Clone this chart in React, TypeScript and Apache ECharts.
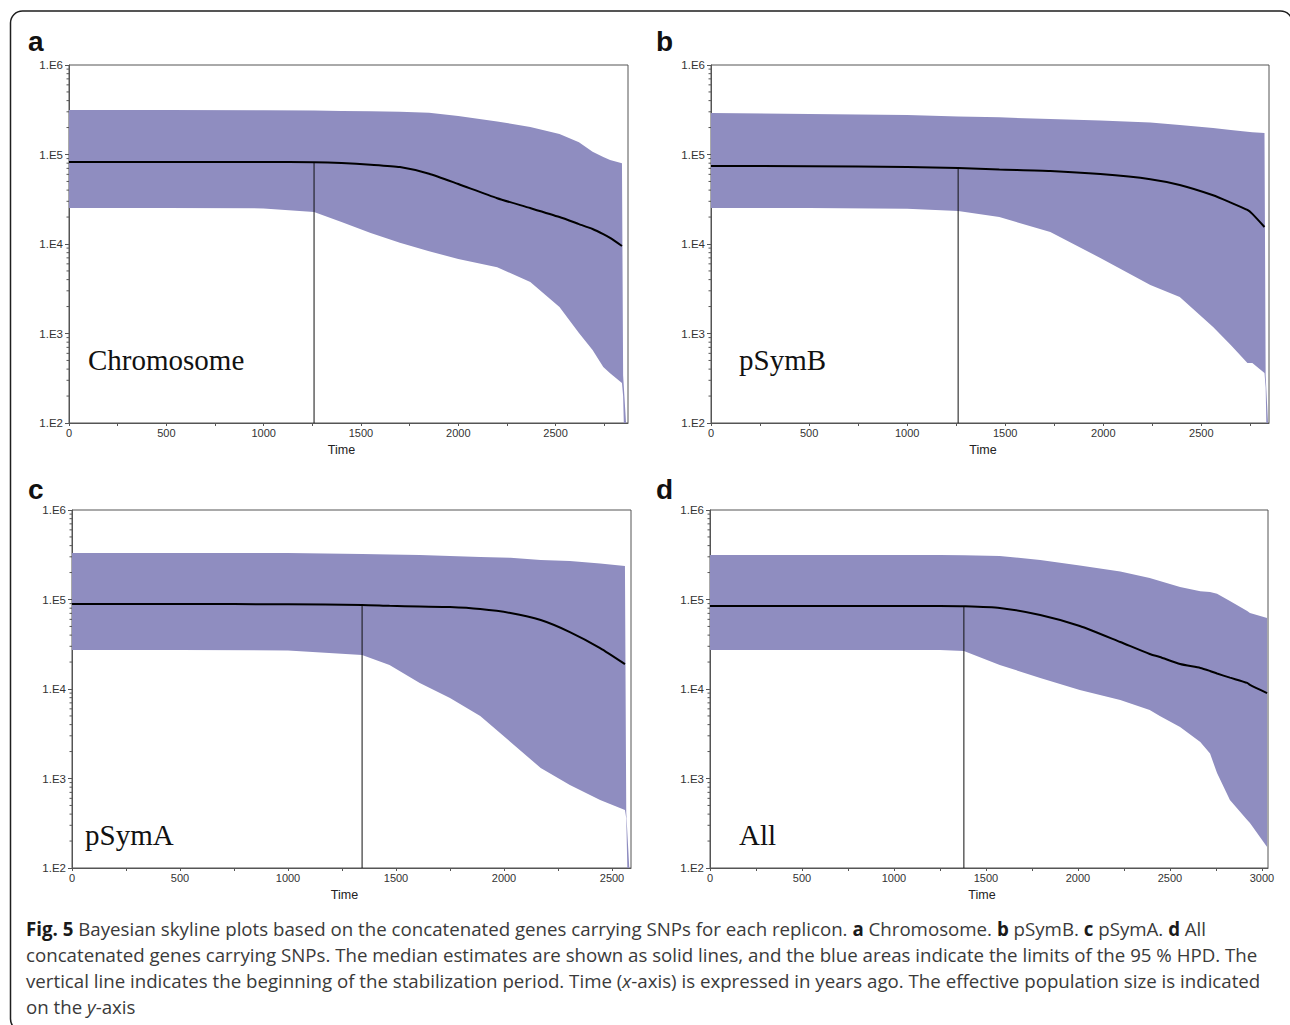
import React, { useEffect, useRef } from "react";
import * as echarts from "echarts";

// ---------- data (effective population size, years ago) ----------
const timesA = [0, 500, 1000, 1259, 1400, 1550, 1700, 1850, 2000, 2200, 2370, 2520, 2620, 2690, 2745, 2780, 2841, 2847, 2862];
const upperA = [3.14e5, 3.14e5, 3.13e5, 3.1e5, 3.07e5, 3.05e5, 3.0e5, 2.93e5, 2.69e5, 2.34e5, 2.03e5, 1.69e5, 1.37e5, 1.07e5, 9.4e4, 8.7e4, 8.0e4, 340, 100];
const medianA = [8.24e4, 8.24e4, 8.24e4, 8.2e4, 8.04e4, 7.7e4, 7.24e4, 6.1e4, 4.68e4, 3.25e4, 2.52e4, 2.0e4, 1.67e4, 1.47e4, 1.29e4, 1.17e4, 9.5e3, null, null];
const lowerA = [2.52e4, 2.52e4, 2.5e4, 2.28e4, 1.76e4, 1.33e4, 1.03e4, 8.3e3, 6.8e3, 5.5e3, 3.76e3, 1.98e3, 1.01e3, 655, 423, 360, 280, 200, 10];

const timesB = [0, 500, 1000, 1260, 1470, 1730, 1985, 2240, 2390, 2560, 2650, 2735, 2760, 2822, 2828, 2840];
const upperB = [2.91e5, 2.84e5, 2.76e5, 2.66e5, 2.6e5, 2.49e5, 2.4e5, 2.28e5, 2.14e5, 1.98e5, 1.88e5, 1.79e5, 1.77e5, 1.74e5, 340, 100];
const medianB = [7.45e4, 7.4e4, 7.25e4, 7.07e4, 6.8e4, 6.55e4, 6.05e4, 5.3e4, 4.56e4, 3.5e4, 2.9e4, 2.4e4, 2.17e4, 1.55e4, null, null];
const lowerB = [2.52e4, 2.52e4, 2.48e4, 2.34e4, 2.0e4, 1.36e4, 6.98e3, 3.48e3, 2.56e3, 1.18e3, 745, 468, 468, 362, 250, 10];

const timesC = [0, 500, 1000, 1343, 1470, 1610, 1750, 1890, 2030, 2170, 2305, 2445, 2560, 2566, 2580];
const upperC = [3.31e5, 3.31e5, 3.3e5, 3.23e5, 3.19e5, 3.14e5, 3.07e5, 2.99e5, 2.92e5, 2.76e5, 2.69e5, 2.53e5, 2.37e5, 420, 100];
const medianC = [8.91e4, 8.91e4, 8.85e4, 8.7e4, 8.5e4, 8.35e4, 8.24e4, 7.83e4, 7.07e4, 5.9e4, 4.33e4, 2.87e4, 1.9e4, null, null];
const lowerC = [2.73e4, 2.73e4, 2.7e4, 2.4e4, 1.85e4, 1.17e4, 7.93e3, 4.99e3, 2.56e3, 1.31e3, 845, 575, 445, 360, 10];

const timesD = [0, 500, 1000, 1250, 1380, 1575, 1795, 2010, 2230, 2390, 2445, 2555, 2665, 2718, 2756, 2826, 2920, 2935, 3028];
const upperD = [3.14e5, 3.14e5, 3.14e5, 3.14e5, 3.13e5, 3.07e5, 2.76e5, 2.4e5, 2.06e5, 1.74e5, 1.61e5, 1.38e5, 1.24e5, 1.21e5, 1.16e5, 9.6e4, 7.45e4, 7.07e4, 6.21e4];
const medianD = [8.45e4, 8.45e4, 8.45e4, 8.45e4, 8.4e4, 8.04e4, 6.71e4, 5.06e4, 3.35e4, 2.46e4, 2.28e4, 1.9e4, 1.72e4, 1.59e4, 1.49e4, 1.34e4, 1.17e4, 1.11e4, 9.0e3];
const lowerD = [2.73e4, 2.73e4, 2.73e4, 2.73e4, 2.65e4, 1.85e4, 1.33e4, 9.75e3, 7.53e3, 5.82e3, 4.99e3, 3.76e3, 2.56e3, 1.9e3, 1.15e3, 575, 344, 318, 172];

const xMaxes = [2872, 2845, 2588, 3033];
const stabTimes = [1259, 1260, 1343, 1380];
const stabTops = [8.24e4, 7.07e4, 8.7e4, 8.4e4];
const yTickLabels = ["1.E2", "1.E3", "1.E4", "1.E5", "1.E6"];
const yDecades = [2, 3, 4, 5];
const minorFactors = [2, 3, 4, 5, 6, 7, 8, 9];
const panelLetters = ["a", "b", "c", "d"];
const panelNames = ["Chromosome", "pSymB", "pSymA", "All"];
const captionLines = [
  "{b|Fig. 5} Bayesian skyline plots based on the concatenated genes carrying SNPs for each replicon. {b|a} Chromosome. {b|b} pSymB. {b|c} pSymA. {b|d} All",
  "concatenated genes carrying SNPs. The median estimates are shown as solid lines, and the blue areas indicate the limits of the 95 % HPD. The",
  "vertical line indicates the beginning of the stabilization period. Time ({i|x}-axis) is expressed in years ago. The effective population size is indicated",
  "on the {i|y}-axis",
];

const panels = [
  { times: timesA, upper: upperA, median: medianA, lower: lowerA },
  { times: timesB, upper: upperB, median: medianB, lower: lowerB },
  { times: timesC, upper: upperC, median: medianC, lower: lowerC },
  { times: timesD, upper: upperD, median: medianD, lower: lowerD },
];

// ---------- layout / style ----------
const gridBoxes = [
  [69, 65, 559, 358],
  [711, 65, 558, 358],
  [72, 510, 559, 358],
  [710, 510, 558, 358],
];
const letterPos = [[28, 41], [656, 41], [28, 489], [656, 489]];
const namePos = [[88, 360], [739, 360], [85, 835], [739, 835]];
const captionY = [928, 954, 980, 1006];
const BAND = "#8f8dc0";
const AXIS = "#555";
const SANS = "'Liberation Sans', Arial, Helvetica, sans-serif";

const lg = (v: number) => Math.log10(v);

function buildOption() {
  const series: any[] = [];
  panels.forEach((p, i) => {
    // 95% HPD band as one polygon (upper forward, lower backward), via the axes' scales
    series.push({
      type: "custom",
      xAxisIndex: i,
      yAxisIndex: i,
      clip: true,
      silent: true,
      data: [[p.times[0], lg(p.upper[0])]],
      renderItem: (params: any, api: any) => {
        const pts: number[][] = [];
        p.times.forEach((t, j) => pts.push(api.coord([t, lg(p.upper[j])])));
        for (let j = p.times.length - 1; j >= 0; j--) pts.push(api.coord([p.times[j], lg(p.lower[j])]));
        const box = params.coordSys;
        return {
          type: "polygon",
          shape: { points: pts },
          style: { fill: BAND, stroke: "none" },
          clipPath: {
            type: "rect",
            shape: { x: box.x, y: box.y, width: box.width, height: box.height },
          },
        };
      },
      z: 2,
    });
    series.push({
      type: "line",
      xAxisIndex: i,
      yAxisIndex: i,
      symbol: "none",
      smooth: 0.2,
      lineStyle: { color: "#000", width: 2 },
      data: p.times
        .map((t, j) => (p.median[j] == null ? null : [t, lg(p.median[j] as number)]))
        .filter((d) => d !== null),
      z: 4,
    });
    series.push({
      type: "line",
      xAxisIndex: i,
      yAxisIndex: i,
      symbol: "none",
      lineStyle: { color: "#111", width: 1 },
      data: [
        [stabTimes[i], lg(stabTops[i])],
        [stabTimes[i], 2],
      ],
      z: 3,
    });
    const minor: number[][] = [];
    yDecades.forEach((d) => minorFactors.forEach((k) => minor.push([0, d + lg(k)])));
    series.push({
      type: "custom",
      xAxisIndex: i,
      yAxisIndex: i,
      data: minor,
      clip: false,
      silent: true,
      renderItem: (params: any, api: any) => {
        const pt = api.coord([api.value(0), api.value(1)]);
        return {
          type: "line",
          shape: { x1: pt[0] - 2.5, y1: pt[1], x2: pt[0], y2: pt[1] },
          style: { stroke: AXIS, lineWidth: 1 },
        };
      },
      z: 5,
    });
  });

  const graphic: any[] = [
    {
      type: "rect",
      shape: { x: 10.5, y: 11, width: 1282, height: 1020, r: 12 },
      style: { fill: "none", stroke: "#1e1e1e", lineWidth: 1.5 },
      silent: true,
    },
  ];
  panelLetters.forEach((l, i) => {
    graphic.push({
      type: "text",
      x: letterPos[i][0],
      y: letterPos[i][1],
      style: {
        text: l,
        fontSize: 28,
        fontWeight: "bold",
        fontFamily: SANS,
        fill: "#111",
        align: "left",
        verticalAlign: "middle",
        textAlign: "left",
        textVerticalAlign: "middle",
      },
    });
  });
  panelNames.forEach((n, i) => {
    graphic.push({
      type: "text",
      x: namePos[i][0],
      y: namePos[i][1],
      z: 10,
      style: {
        text: n,
        fontSize: 29,
        fontFamily: "'Liberation Serif', 'Times New Roman', serif",
        fill: "#111",
        align: "left",
        verticalAlign: "middle",
        textAlign: "left",
        textVerticalAlign: "middle",
      },
    });
  });
  const capFont = "'Open Sans', Lato, sans-serif";
  const capSize = 18.7;
  captionLines.forEach((line, i) => {
    graphic.push({
      type: "text",
      x: 26,
      y: captionY[i],
      style: {
        text: line,
        fontSize: capSize,
        fontFamily: capFont,
        fill: "#3a3a3a",
        align: "left",
        verticalAlign: "middle",
        textAlign: "left",
        textVerticalAlign: "middle",
        rich: {
          b: { fontSize: capSize, fontFamily: capFont, fontWeight: "bold", fill: "#1a1a1a", color: "#1a1a1a" },
          i: { fontSize: capSize, fontFamily: capFont, fontStyle: "italic", fill: "#3a3a3a", color: "#3a3a3a" },
        },
      },
    });
  });

  return {
    animation: false,
    backgroundColor: "#fff",
    grid: gridBoxes.map(([l, t, w, h]) => ({
      left: l,
      top: t,
      width: w,
      height: h,
      show: true,
      borderColor: AXIS,
      borderWidth: 1,
      backgroundColor: "transparent",
      containLabel: false,
    })),
    xAxis: panels.map((_, i) => ({
      type: "value",
      gridIndex: i,
      min: 0,
      max: xMaxes[i],
      interval: 250,
      name: "Time",
      nameLocation: "middle",
      nameGap: 20,
      nameTextStyle: { fontSize: 12.5, color: "#222", fontFamily: SANS, padding: [0, 14, 0, 0] },
      axisLine: { show: true, onZero: false, lineStyle: { color: AXIS, width: 1 } },
      axisTick: { show: true, length: 3, interval: 0, lineStyle: { color: AXIS } },
      axisLabel: {
        interval: 0,
        fontSize: 11,
        color: "#333",
        margin: 4,
        fontFamily: SANS,
        showMaxLabel: false,
        formatter: (v: number) => (v % 500 === 0 ? String(v) : ""),
      },
      splitLine: { show: false },
    })),
    yAxis: panels.map((_, i) => ({
      type: "value",
      gridIndex: i,
      min: 2,
      max: 6,
      interval: 1,
      axisLine: { show: true, onZero: false, lineStyle: { color: AXIS, width: 1 } },
      axisTick: { show: true, length: 4, lineStyle: { color: AXIS } },
      axisLabel: {
        fontSize: 11.5,
        color: "#333",
        margin: 6,
        fontFamily: SANS,
        formatter: (v: number) => yTickLabels[Math.round(v) - 2] ?? "",
      },
      splitLine: { show: false },
    })),
    series,
    graphic,
  };
}

export default function App() {
  const ref = useRef<HTMLDivElement>(null);
  useEffect(() => {
    if (!ref.current) return;
    const chart = echarts.init(ref.current, null, { renderer: "svg" });
    chart.setOption(buildOption() as any);
    return () => chart.dispose();
  }, []);
  return (
    <div
      ref={ref}
      style={{ position: "absolute", left: 0, top: 0, width: 1290, height: 1025, background: "#fff" }}
    />
  );
}
